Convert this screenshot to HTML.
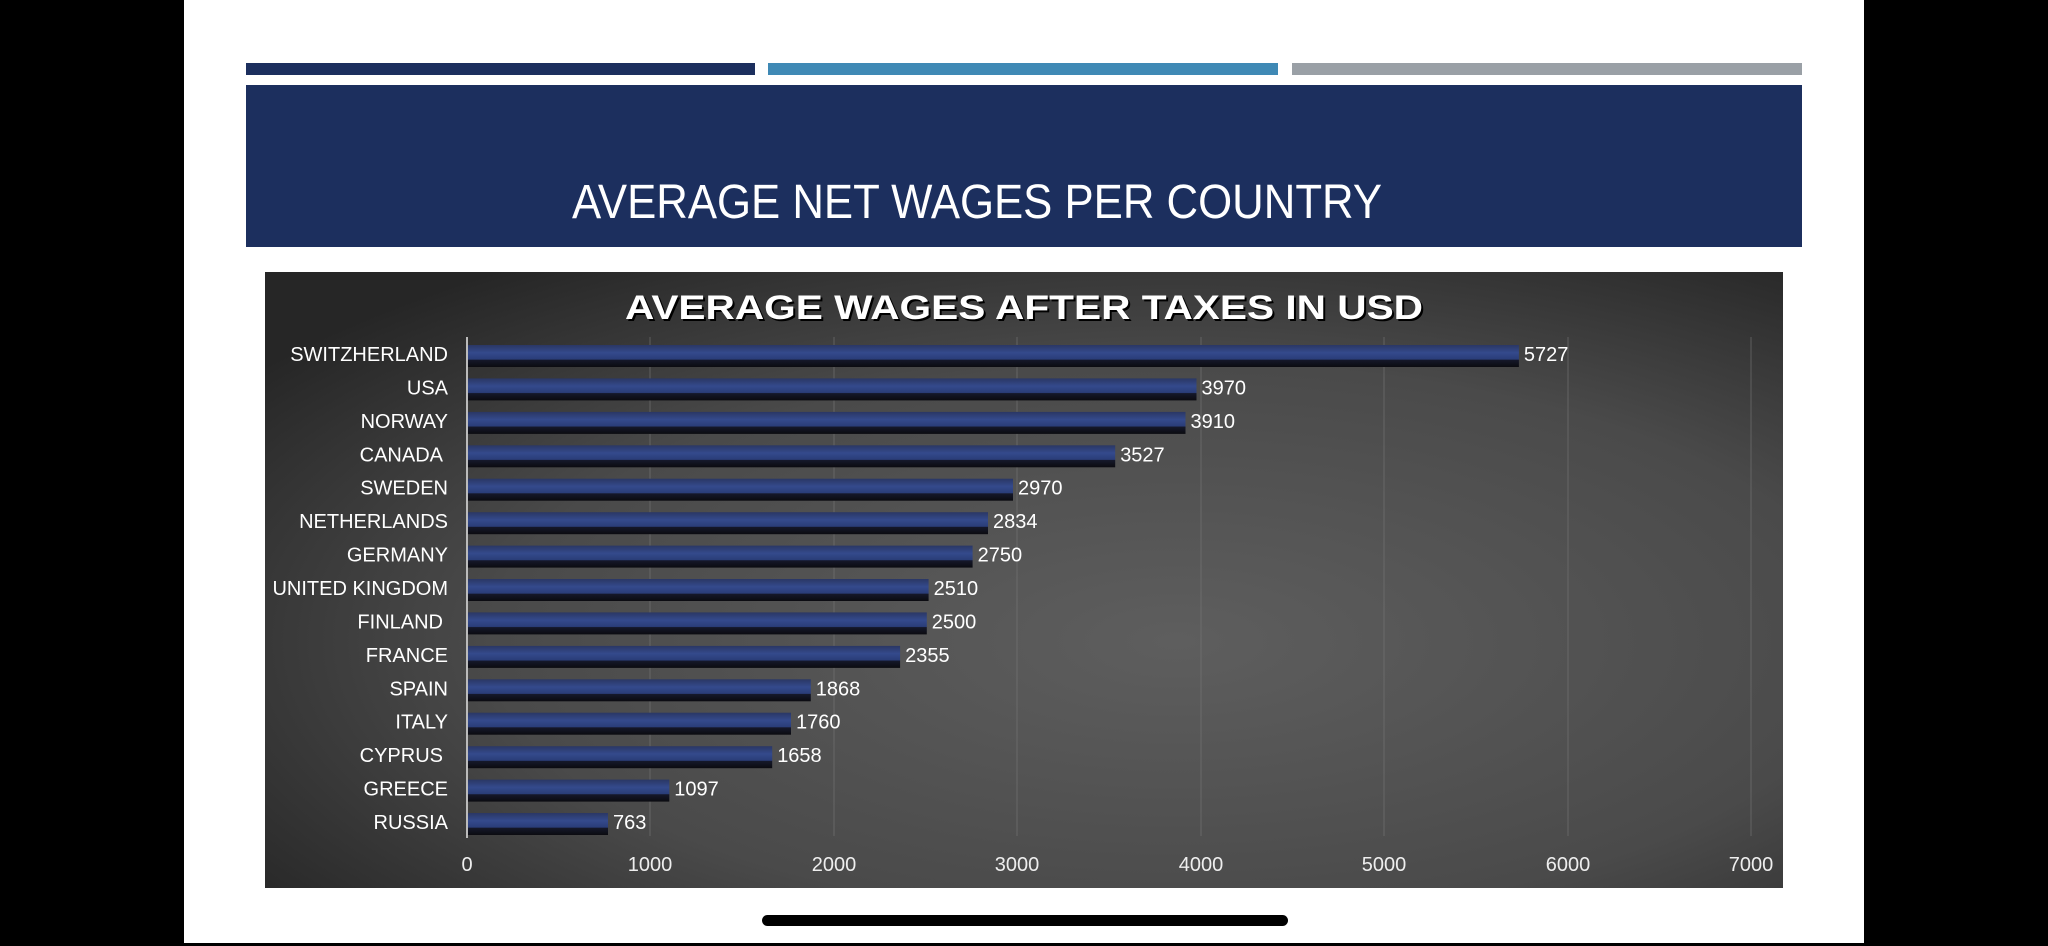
<!DOCTYPE html>
<html><head><style>
html,body{margin:0;padding:0;background:#000;}
body{width:2048px;height:946px;overflow:hidden;position:relative;}
</style></head><body>
<svg width="2048" height="946" viewBox="0 0 2048 946" xmlns="http://www.w3.org/2000/svg" style="position:absolute;left:0;top:0">
<defs>
<radialGradient id="bg" cx="0.6" cy="0.6" r="0.75">
<stop offset="0" stop-color="#5e5e5e"/><stop offset="0.6" stop-color="#4a4a4a"/><stop offset="1" stop-color="#262626"/>
</radialGradient>
<linearGradient id="bar" x1="0" y1="0" x2="0" y2="1">
<stop offset="0" stop-color="#2a3764"/><stop offset="0.35" stop-color="#344a8c"/><stop offset="0.65" stop-color="#2a3d78"/><stop offset="0.68" stop-color="#15182a"/><stop offset="1" stop-color="#0b0b10"/>
</linearGradient>
</defs>
<rect x="184" y="0" width="1680" height="943" fill="#fff"/>
<rect x="246" y="63" width="509" height="12" fill="#1c2f5e"/>
<rect x="768" y="63" width="510" height="12" fill="#3f89b5"/>
<rect x="1292" y="63" width="510" height="12" fill="#9aa0a6"/>
<rect x="246" y="85" width="1556" height="162" fill="#1c2f5e"/>
<text x="977" y="218" font-family="Liberation Sans, sans-serif" font-size="48" fill="#fff" text-anchor="middle" textLength="810" lengthAdjust="spacingAndGlyphs">AVERAGE NET WAGES PER COUNTRY</text>
<rect x="265" y="272" width="1518" height="616" fill="url(#bg)"/>
<text x="1026" y="321" font-family="Liberation Sans, sans-serif" font-weight="bold" font-size="34" fill="#000" text-anchor="middle" textLength="798" lengthAdjust="spacingAndGlyphs">AVERAGE WAGES AFTER TAXES IN USD</text>
<text x="1024" y="319" font-family="Liberation Sans, sans-serif" font-weight="bold" font-size="34" fill="#fff" text-anchor="middle" textLength="798" lengthAdjust="spacingAndGlyphs">AVERAGE WAGES AFTER TAXES IN USD</text>
<g stroke="#777" stroke-width="1" opacity="0.6">
<line x1="650" y1="337" x2="650" y2="836"/><line x1="834" y1="337" x2="834" y2="836"/><line x1="1017" y1="337" x2="1017" y2="836"/><line x1="1201" y1="337" x2="1201" y2="836"/><line x1="1384" y1="337" x2="1384" y2="836"/><line x1="1568" y1="337" x2="1568" y2="836"/><line x1="1751" y1="337" x2="1751" y2="836"/>
</g>
<line x1="467" y1="337" x2="467" y2="838" stroke="#bbb" stroke-width="2"/>
<g fill="url(#bar)">
<rect x="468" y="345" width="1050.9" height="22"/>
<rect x="468" y="378.4" width="728.5" height="22"/>
<rect x="468" y="411.9" width="717.5" height="22"/>
<rect x="468" y="445.3" width="647.2" height="22"/>
<rect x="468" y="478.7" width="545.0" height="22"/>
<rect x="468" y="512.2" width="520.0" height="22"/>
<rect x="468" y="545.6" width="504.6" height="22"/>
<rect x="468" y="579.0" width="460.6" height="22"/>
<rect x="468" y="612.4" width="458.8" height="22"/>
<rect x="468" y="645.9" width="432.1" height="22"/>
<rect x="468" y="679.3" width="342.8" height="22"/>
<rect x="468" y="712.7" width="323.0" height="22"/>
<rect x="468" y="746.2" width="304.2" height="22"/>
<rect x="468" y="779.6" width="201.3" height="22"/>
<rect x="468" y="813.0" width="140.0" height="22"/>
</g>
<g font-family="Liberation Sans, sans-serif" font-size="20" fill="#fff" text-anchor="end">
<text x="448" y="361">SWITZHERLAND</text>
<text x="448" y="394.4">USA</text>
<text x="448" y="427.9">NORWAY</text>
<text x="443" y="461.3">CANADA</text>
<text x="448" y="494.7">SWEDEN</text>
<text x="448" y="528.2">NETHERLANDS</text>
<text x="448" y="561.6">GERMANY</text>
<text x="448" y="595.0">UNITED KINGDOM</text>
<text x="443" y="628.4">FINLAND</text>
<text x="448" y="661.9">FRANCE</text>
<text x="448" y="695.3">SPAIN</text>
<text x="448" y="728.7">ITALY</text>
<text x="443" y="762.2">CYPRUS</text>
<text x="448" y="795.6">GREECE</text>
<text x="448" y="829.0">RUSSIA</text>
</g>
<g font-family="Liberation Sans, sans-serif" font-size="20" fill="#fff">
<text x="1523.9" y="361">5727</text>
<text x="1201.5" y="394.4">3970</text>
<text x="1190.5" y="427.9">3910</text>
<text x="1120.2" y="461.3">3527</text>
<text x="1018.0" y="494.7">2970</text>
<text x="993.0" y="528.2">2834</text>
<text x="977.6" y="561.6">2750</text>
<text x="933.6" y="595.0">2510</text>
<text x="931.8" y="628.4">2500</text>
<text x="905.1" y="661.9">2355</text>
<text x="815.8" y="695.3">1868</text>
<text x="796.0" y="728.7">1760</text>
<text x="777.2" y="762.2">1658</text>
<text x="674.3" y="795.6">1097</text>
<text x="613.0" y="829.0">763</text>
</g>
<g font-family="Liberation Sans, sans-serif" font-size="20" fill="#eee" text-anchor="middle">
<text x="467" y="871">0</text><text x="650" y="871">1000</text><text x="834" y="871">2000</text><text x="1017" y="871">3000</text><text x="1201" y="871">4000</text><text x="1384" y="871">5000</text><text x="1568" y="871">6000</text><text x="1751" y="871">7000</text>
</g>
<rect x="762" y="915" width="526" height="11" rx="5.5" fill="#000"/>
</svg>
</body></html>
